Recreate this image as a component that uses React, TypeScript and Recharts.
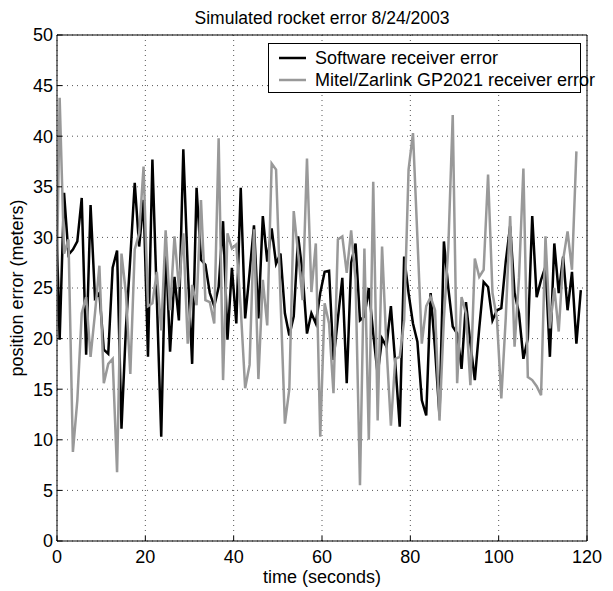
import { CartesianGrid, Label, Legend, Line, LineChart, XAxis, YAxis } from "recharts"

const FONT = "'Liberation Sans Narrow', 'Liberation Sans', Arial, sans-serif"

const TITLE = "Simulated rocket error 8/24/2003"
const X_LABEL = "time (seconds)"
const Y_LABEL = "position error (meters)"
const X_TICKS = [0, 20, 40, 60, 80, 100, 120]
const Y_TICKS = [0, 5, 10, 15, 20, 25, 30, 35, 40, 45, 50]
const SERIES_NAMES = ["Software receiver error", "Mitel/Zarlink GP2021 receiver error"]

// first value of each series sits just left of t=0 and gets clipped by the axes
const SOFTWARE = [
  35.7,
  19.9, 34.4, 28.3, 28.8, 29.6, 33.9, 18.4, 33.2, 24.0, 24.5,
  18.9, 18.5, 27.0, 28.7, 11.1, 21.0, 28.0, 35.4, 29.1, 33.7,
  18.2, 37.7, 24.0, 10.3, 29.4, 18.7, 26.1, 21.8, 38.7, 27.0,
  17.5, 34.9, 27.8, 27.3, 24.5, 23.2, 25.1, 31.6, 19.9, 27.0,
  21.5, 34.9, 22.0, 26.5, 31.2, 22.0, 32.1, 27.6, 30.9, 27.4,
  28.4, 22.5, 20.3, 22.2, 30.1, 26.5, 20.5, 22.5, 21.5, 24.5,
  26.6, 26.7, 17.9, 22.0, 26.0, 15.6, 27.5, 29.4, 21.8, 22.2,
  25.0, 20.5, 16.5, 20.0, 19.2, 23.2, 17.5, 11.3, 28.1, 24.5,
  21.5, 19.7, 13.9, 12.4, 24.5, 18.9, 12.4, 29.6, 25.0, 21.2,
  20.5, 17.0, 23.6, 19.5, 15.9, 21.0, 25.6, 25.1, 21.8, 22.8,
  23.0, 27.6, 31.1, 24.5, 22.5, 18.0, 20.0, 32.1, 24.1, 25.8,
  27.1, 18.2, 29.4, 24.5, 28.1, 22.8, 26.6, 19.5, 24.8,
]

const MITEL = [
  16.0,
  43.8, 28.4, 29.8, 8.8, 13.9, 22.5, 24.1, 18.2, 22.5, 27.2,
  15.6, 17.5, 18.0, 6.8, 28.4, 24.5, 16.5, 28.8, 30.4, 37.0,
  23.2, 23.5, 26.6, 20.8, 30.7, 22.8, 30.1, 25.1, 30.4, 19.5,
  25.3, 23.3, 33.7, 23.8, 23.6, 21.5, 39.8, 15.9, 30.4, 28.9,
  29.3, 23.0, 15.1, 17.4, 30.8, 16.0, 25.8, 21.3, 37.3, 36.7,
  24.0, 11.6, 15.0, 32.6, 28.4, 23.8, 37.8, 24.6, 29.4, 10.3,
  23.5, 21.5, 14.6, 29.8, 30.1, 26.5, 30.7, 25.8, 5.5, 28.9,
  10.0, 35.5, 11.9, 29.1, 19.2, 11.4, 18.0, 18.2, 21.8, 36.7,
  40.3, 30.0, 19.5, 23.2, 24.1, 22.8, 11.9, 22.0, 29.0, 42.1,
  15.6, 24.1, 22.5, 15.4, 27.9, 26.1, 26.8, 36.2, 24.5, 22.0,
  14.1, 22.0, 32.1, 19.2, 26.0, 36.8, 16.2, 15.9, 15.3, 14.4,
  30.1, 21.0, 25.0, 20.7, 27.8, 30.6, 26.8, 38.5,
]

// one sample per second, starting a bit after t=0
const chartData = SOFTWARE.map((sw, i) => ({
  t: i - 0.4,
  software: sw,
  mitel: MITEL[i],
}))

function LegendBox({ payload }: any) {
  const items = [...(payload || [])].sort(
    (a: any, b: any) => SERIES_NAMES.indexOf(a.value) - SERIES_NAMES.indexOf(b.value)
  )
  return (
    <div
      style={{
        width: 313,
        height: 50,
        boxSizing: "border-box",
        border: "1px solid #000",
        background: "#fff",
        fontFamily: FONT,
        fontSize: 18,
        color: "#000",
        paddingTop: 3,
      }}
    >
      {items.map((p: any) => (
        <div key={p.value} style={{ display: "flex", alignItems: "center", height: 22 }}>
          <svg width={46} height={10} style={{ flex: "none" }}>
            <line x1={10} x2={37} y1={5} y2={5} stroke={p.color} strokeWidth={2.5} />
          </svg>
          <span style={{ whiteSpace: "nowrap" }}>{p.value}</span>
        </div>
      ))}
    </div>
  )
}

export default function App() {
  const tickStyle = { fill: "#000", fontSize: 18, fontFamily: FONT }
  return (
    <div style={{ position: "absolute", left: 0, top: 0, background: "#fff" }}>
      <LineChart
        width={613}
        height={591}
        data={chartData}
        margin={{ top: 34, right: 25, left: 0, bottom: 0 }}
      >
        <CartesianGrid stroke="#555" strokeDasharray="1 4" />
        <XAxis
          dataKey="t"
          type="number"
          domain={[0, 120]}
          ticks={X_TICKS}
          allowDataOverflow
          height={50}
          stroke="#000"
          tickSize={-5}
          tickMargin={14}
          tick={tickStyle}
        >
          <Label value={X_LABEL} position="insideBottom" offset={8} fill="#000" fontSize={18} fontFamily={FONT} />
        </XAxis>
        <XAxis
          xAxisId="top"
          dataKey="t"
          type="number"
          orientation="top"
          domain={[0, 120]}
          ticks={X_TICKS}
          allowDataOverflow
          height={1}
          stroke="#000"
          tickSize={-5}
          tick={false}
        >
          <Label value={TITLE} position="top" offset={10} fill="#000" fontSize={17.5} fontFamily={FONT} />
        </XAxis>
        <YAxis
          type="number"
          domain={[0, 50]}
          ticks={Y_TICKS}
          allowDataOverflow
          width={57}
          stroke="#000"
          tickSize={-5}
          tickMargin={9}
          tick={tickStyle}
        >
          <Label
            value={Y_LABEL}
            angle={-90}
            position="center"
            dx={-12}
            fill="#000"
            fontSize={18}
            fontFamily={FONT}
          />
        </YAxis>
        <YAxis
          yAxisId="right"
          orientation="right"
          type="number"
          domain={[0, 50]}
          ticks={Y_TICKS}
          width={1}
          stroke="#000"
          tickSize={-5}
          tick={false}
        />
        <Legend
          layout="horizontal"
          verticalAlign="middle"
          align="center"
          content={<LegendBox />}
          wrapperStyle={{ left: 268, top: 43, width: 313, height: 50 }}
        />
        <Line
          dataKey="software"
          name={SERIES_NAMES[0]}
          stroke="#000"
          strokeWidth={2.5}
          dot={false}
          activeDot={false}
          isAnimationActive={false}
        />
        <Line
          dataKey="mitel"
          name={SERIES_NAMES[1]}
          stroke="#999"
          strokeWidth={2.5}
          dot={false}
          activeDot={false}
          isAnimationActive={false}
        />
      </LineChart>
    </div>
  )
}
